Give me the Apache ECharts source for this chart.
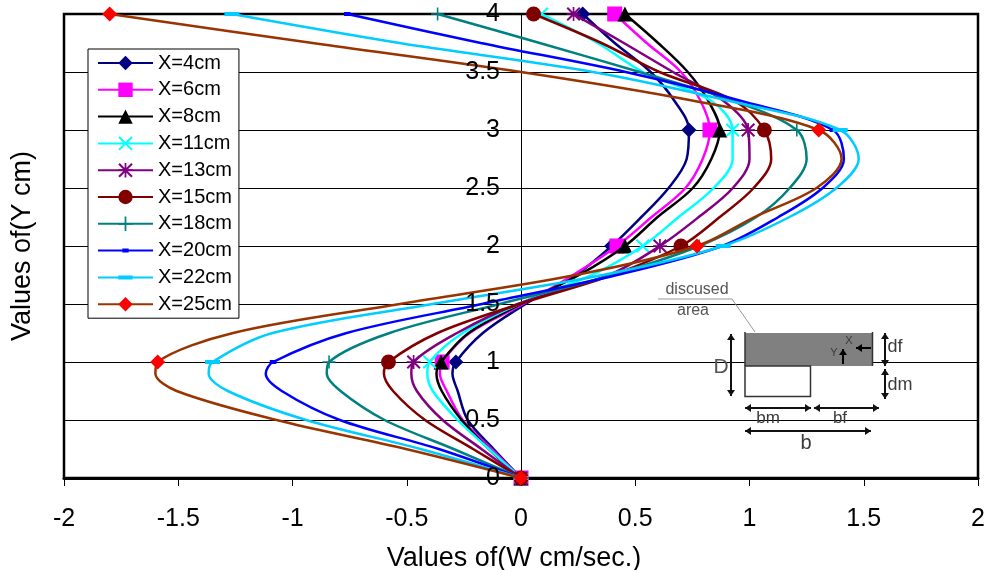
<!DOCTYPE html>
<html><head><meta charset="utf-8">
<style>html,body{margin:0;padding:0;background:#fff}#c{width:990px;height:570px}</style>
<script src="https://cdn.jsdelivr.net/npm/echarts@6/dist/echarts.min.js"></script>
</head><body><div id="c"></div>
<script>
const yValues = [0,0.25,0.5,0.75,0.9,1,1.25,1.5,1.75,2,2.25,2.5,2.75,3,3.25,3.5,3.75,4];
const markedY = [0,1,2,3,4];
const x4cm  = [0,-0.12,-0.233,-0.277,-0.30,-0.285,-0.167,0.02,0.24,0.397,0.527,0.646,0.725,0.735,0.672,0.567,0.41,0.27];
const x6cm  = [0,-0.13,-0.255,-0.325,-0.355,-0.345,-0.225,0.01,0.228,0.42,0.572,0.72,0.795,0.827,0.786,0.70,0.55,0.41];
const x8cm  = [0,-0.14,-0.26,-0.347,-0.37,-0.35,-0.229,0,0.254,0.455,0.598,0.752,0.833,0.87,0.82,0.73,0.60,0.455];
const x11cm = [0,-0.14,-0.277,-0.386,-0.41,-0.40,-0.255,-0.01,0.31,0.533,0.69,0.843,0.926,0.926,0.833,0.533,0.335,0.09];
const x13cm = [0,-0.173,-0.343,-0.456,-0.48,-0.47,-0.28,-0.014,0.385,0.608,0.778,0.927,1.0,0.994,0.887,0.665,0.45,0.23];
const x15cm = [0,-0.21,-0.42,-0.56,-0.60,-0.58,-0.365,-0.006,0.40,0.70,0.87,1.018,1.095,1.065,0.935,0.606,0.352,0.055];
const x18cm = [0,-0.295,-0.597,-0.79,-0.85,-0.84,-0.575,-0.093,0.40,0.78,1.03,1.176,1.25,1.207,0.93,0.519,0.082,-0.365];
const x20cm = [0,-0.36,-0.793,-1.047,-1.117,-1.085,-0.763,-0.17,0.42,0.88,1.127,1.32,1.413,1.365,0.965,0.458,-0.176,-0.76];
const x22cm = [0,-0.44,-0.94,-1.283,-1.367,-1.35,-1.087,-0.387,0.358,0.885,1.175,1.38,1.478,1.397,0.913,0.315,-0.532,-1.265];
const x25cm = [0,-0.504,-1.07,-1.507,-1.60,-1.59,-1.26,-0.53,0.24,0.77,1.022,1.293,1.403,1.303,0.76,0,-0.912,-1.80];
const seriesNames = ['X=4cm','X=6cm','X=8cm','X=11cm','X=13cm','X=15cm','X=18cm','X=20cm','X=22cm','X=25cm'];
const seriesValues = [x4cm,x6cm,x8cm,x11cm,x13cm,x15cm,x18cm,x20cm,x22cm,x25cm];
const lineColors = ['#000080','#ff00ff','#000000','#00ffff','#800080','#800000','#008080','#0000ff','#00ccff','#993300'];
const markColors = ['#000080','#ff00ff','#000000','#00ffff','#800080','#800000','#008080','#0000ff','#00ccff','#ff0000'];
const pathX = 'path://M10 0L50 40L90 0L100 10L60 50L100 90L90 100L50 60L10 100L0 90L40 50L0 10Z';
const pathStar = 'path://M10 0L50 40L90 0L100 10L60 50L100 90L90 100L50 60L10 100L0 90L40 50L0 10Z M44 0L56 0L56 100L44 100Z M0 44L100 44L100 56L0 56Z';
const pathPlus = 'path://M44 0L56 0L56 44L100 44L100 56L56 56L56 100L44 100L44 56L0 56L0 44L44 44Z';
const pathDashS = 'path://M0 0L0 0Z M100 100L100 100Z M28 36L72 36L72 64L28 64Z';
const pathDashL = 'path://M0 0L0 0Z M100 100L100 100Z M0 36L100 36L100 64L0 64Z';
const symbols = ['diamond','rect','triangle',pathX,pathStar,'circle',pathPlus,pathDashS,pathDashL,'diamond'];

const FONT = '"Liberation Sans", Arial, sans-serif';
const INK = '#3a3a3a';

function arrow(x1,y1,x2,y2,both,col){
  const c = col||'#111', a = Math.atan2(y2-y1,x2-x1), L=6, W=4;
  const head=(x,y,ang)=>({type:'polygon',z:20,silent:true,shape:{points:[[x,y],
    [x-L*Math.cos(ang)+W*Math.sin(ang),y-L*Math.sin(ang)-W*Math.cos(ang)],
    [x-L*Math.cos(ang)-W*Math.sin(ang),y-L*Math.sin(ang)+W*Math.cos(ang)]]},style:{fill:c}});
  const out=[{type:'line',z:20,silent:true,shape:{x1,y1,x2,y2},style:{stroke:c,lineWidth:2}},head(x2,y2,a)];
  if(both) out.push(head(x1,y1,a+Math.PI));
  return out;
}
function label(t,x,y,size,col){
  return {type:'text',z:20,silent:true,x,y,style:{text:t,fill:col||INK,font:size+'px '+FONT,align:'center',verticalAlign:'middle'}};
}
const inset = [
  {type:'rect',z:19,silent:true,shape:{x:745,y:333,width:127,height:33},style:{fill:'#808080'}},
  {type:'rect',z:19,silent:true,shape:{x:745,y:366,width:65.5,height:30.5},style:{fill:'#fff',stroke:'#333',lineWidth:1.5}},
  {type:'line',z:20,silent:true,shape:{x1:745,y1:332,x2:745,y2:366},style:{stroke:'#333',lineWidth:1.5}},
  {type:'line',z:20,silent:true,shape:{x1:872.5,y1:332,x2:872.5,y2:366},style:{stroke:'#333',lineWidth:1.5}},
  {type:'polyline',z:20,silent:true,shape:{points:[[658,299],[732,299],[755,332]]},style:{stroke:'#999',lineWidth:1,fill:null}},
  label('discused',697,290,16,'#555'),
  label('area',693,311,16,'#555'),
  label('D',721,367,21,'#555'),
  label('df',895,347,18),
  label('dm',900,385,18),
  label('bm',768,418,17),
  label('bf',840,418,17),
  label('b',806,443,20),
  label('Y',834,353,11),
  label('X',849,341,11),
  ...arrow(731,334,731,396,true),
  ...arrow(885,333,885,366,true),
  ...arrow(885,369,885,399,true),
  ...arrow(745,408,811,408,true),
  ...arrow(814,408,879,408,true),
  ...arrow(745,431,871,431,true),
  ...arrow(843,364,843,349,false,'#000'),
  ...arrow(871,348,856,348,false,'#000')
];

const series = seriesNames.map((name,i)=>({
  name, type:'line', smooth:0.33, clip:false, showAllSymbol:true,
  symbol:symbols[i], symbolSize: (i===3||i===4)?14:(i===6?13:15), z:2+i*0.01,
  lineStyle:{color:lineColors[i],width:2.5},
  itemStyle:{color:markColors[i]},
  emphasis:{disabled:true},
  data: yValues.map((y,j)=> markedY.includes(y)
      ? {value:[seriesValues[i][j],y]}
      : {value:[seriesValues[i][j],y],symbol:'none'})
}));

const chart = echarts.init(document.getElementById('c'),null,{renderer:'canvas'});
chart.setOption({
  animation:false,
  backgroundColor:'#fff',
  textStyle:{fontFamily:FONT},
  grid:{left:64,right:12,top:14,bottom:92,show:true,outerBoundsMode:'none',containLabel:false,borderColor:'#000',borderWidth:2.5,backgroundColor:'transparent'},
  xAxis:{type:'value',min:-2,max:2,interval:0.5,
    name:'Values of(W cm/sec.)',nameLocation:'middle',nameGap:67,
    nameTextStyle:{fontFamily:FONT,fontSize:27,color:'#000',padding:[0,14,0,0]},
    axisLine:{onZero:false,lineStyle:{color:'#000',width:3}},
    axisTick:{show:true,length:8,lineStyle:{color:'#000',width:1}},
    axisLabel:{fontFamily:FONT,fontSize:25,color:'#000',margin:29,
      formatter:v=>String(v)},
    splitLine:{show:false}},
  yAxis:[{type:'value',min:0,max:4,interval:0.5,offset:-457,
    name:'Values of(Y cm)',nameLocation:'middle',nameGap:485,
    nameTextStyle:{fontFamily:FONT,fontSize:27,color:'#000'},
    axisLine:{onZero:false,lineStyle:{color:'#000',width:1}},
    axisTick:{show:true,length:8,lineStyle:{color:'#000',width:1}},
    axisLabel:{show:false},
    splitLine:{show:true,lineStyle:{color:'#000',width:1}}},
   {type:'value',min:0,max:4,interval:0.5,position:'left',offset:-457,z:5,
    axisLine:{show:false,onZero:false},axisTick:{show:false},splitLine:{show:false},
    axisLabel:{fontFamily:FONT,fontSize:25,color:'#000',margin:21,
      formatter:v=>String(v)}}],
  legend:{orient:'vertical',left:88,top:49,padding:[4,7,4,9],itemGap:6.8,itemWidth:55,itemHeight:18,
    backgroundColor:'#fff',borderColor:'#000',borderWidth:1,
    textStyle:{fontFamily:FONT,fontSize:20,color:'#000',lineHeight:20},
    data:seriesNames},
  tooltip:{show:false},
  series,
  graphic:inset
});
</script></body></html>
